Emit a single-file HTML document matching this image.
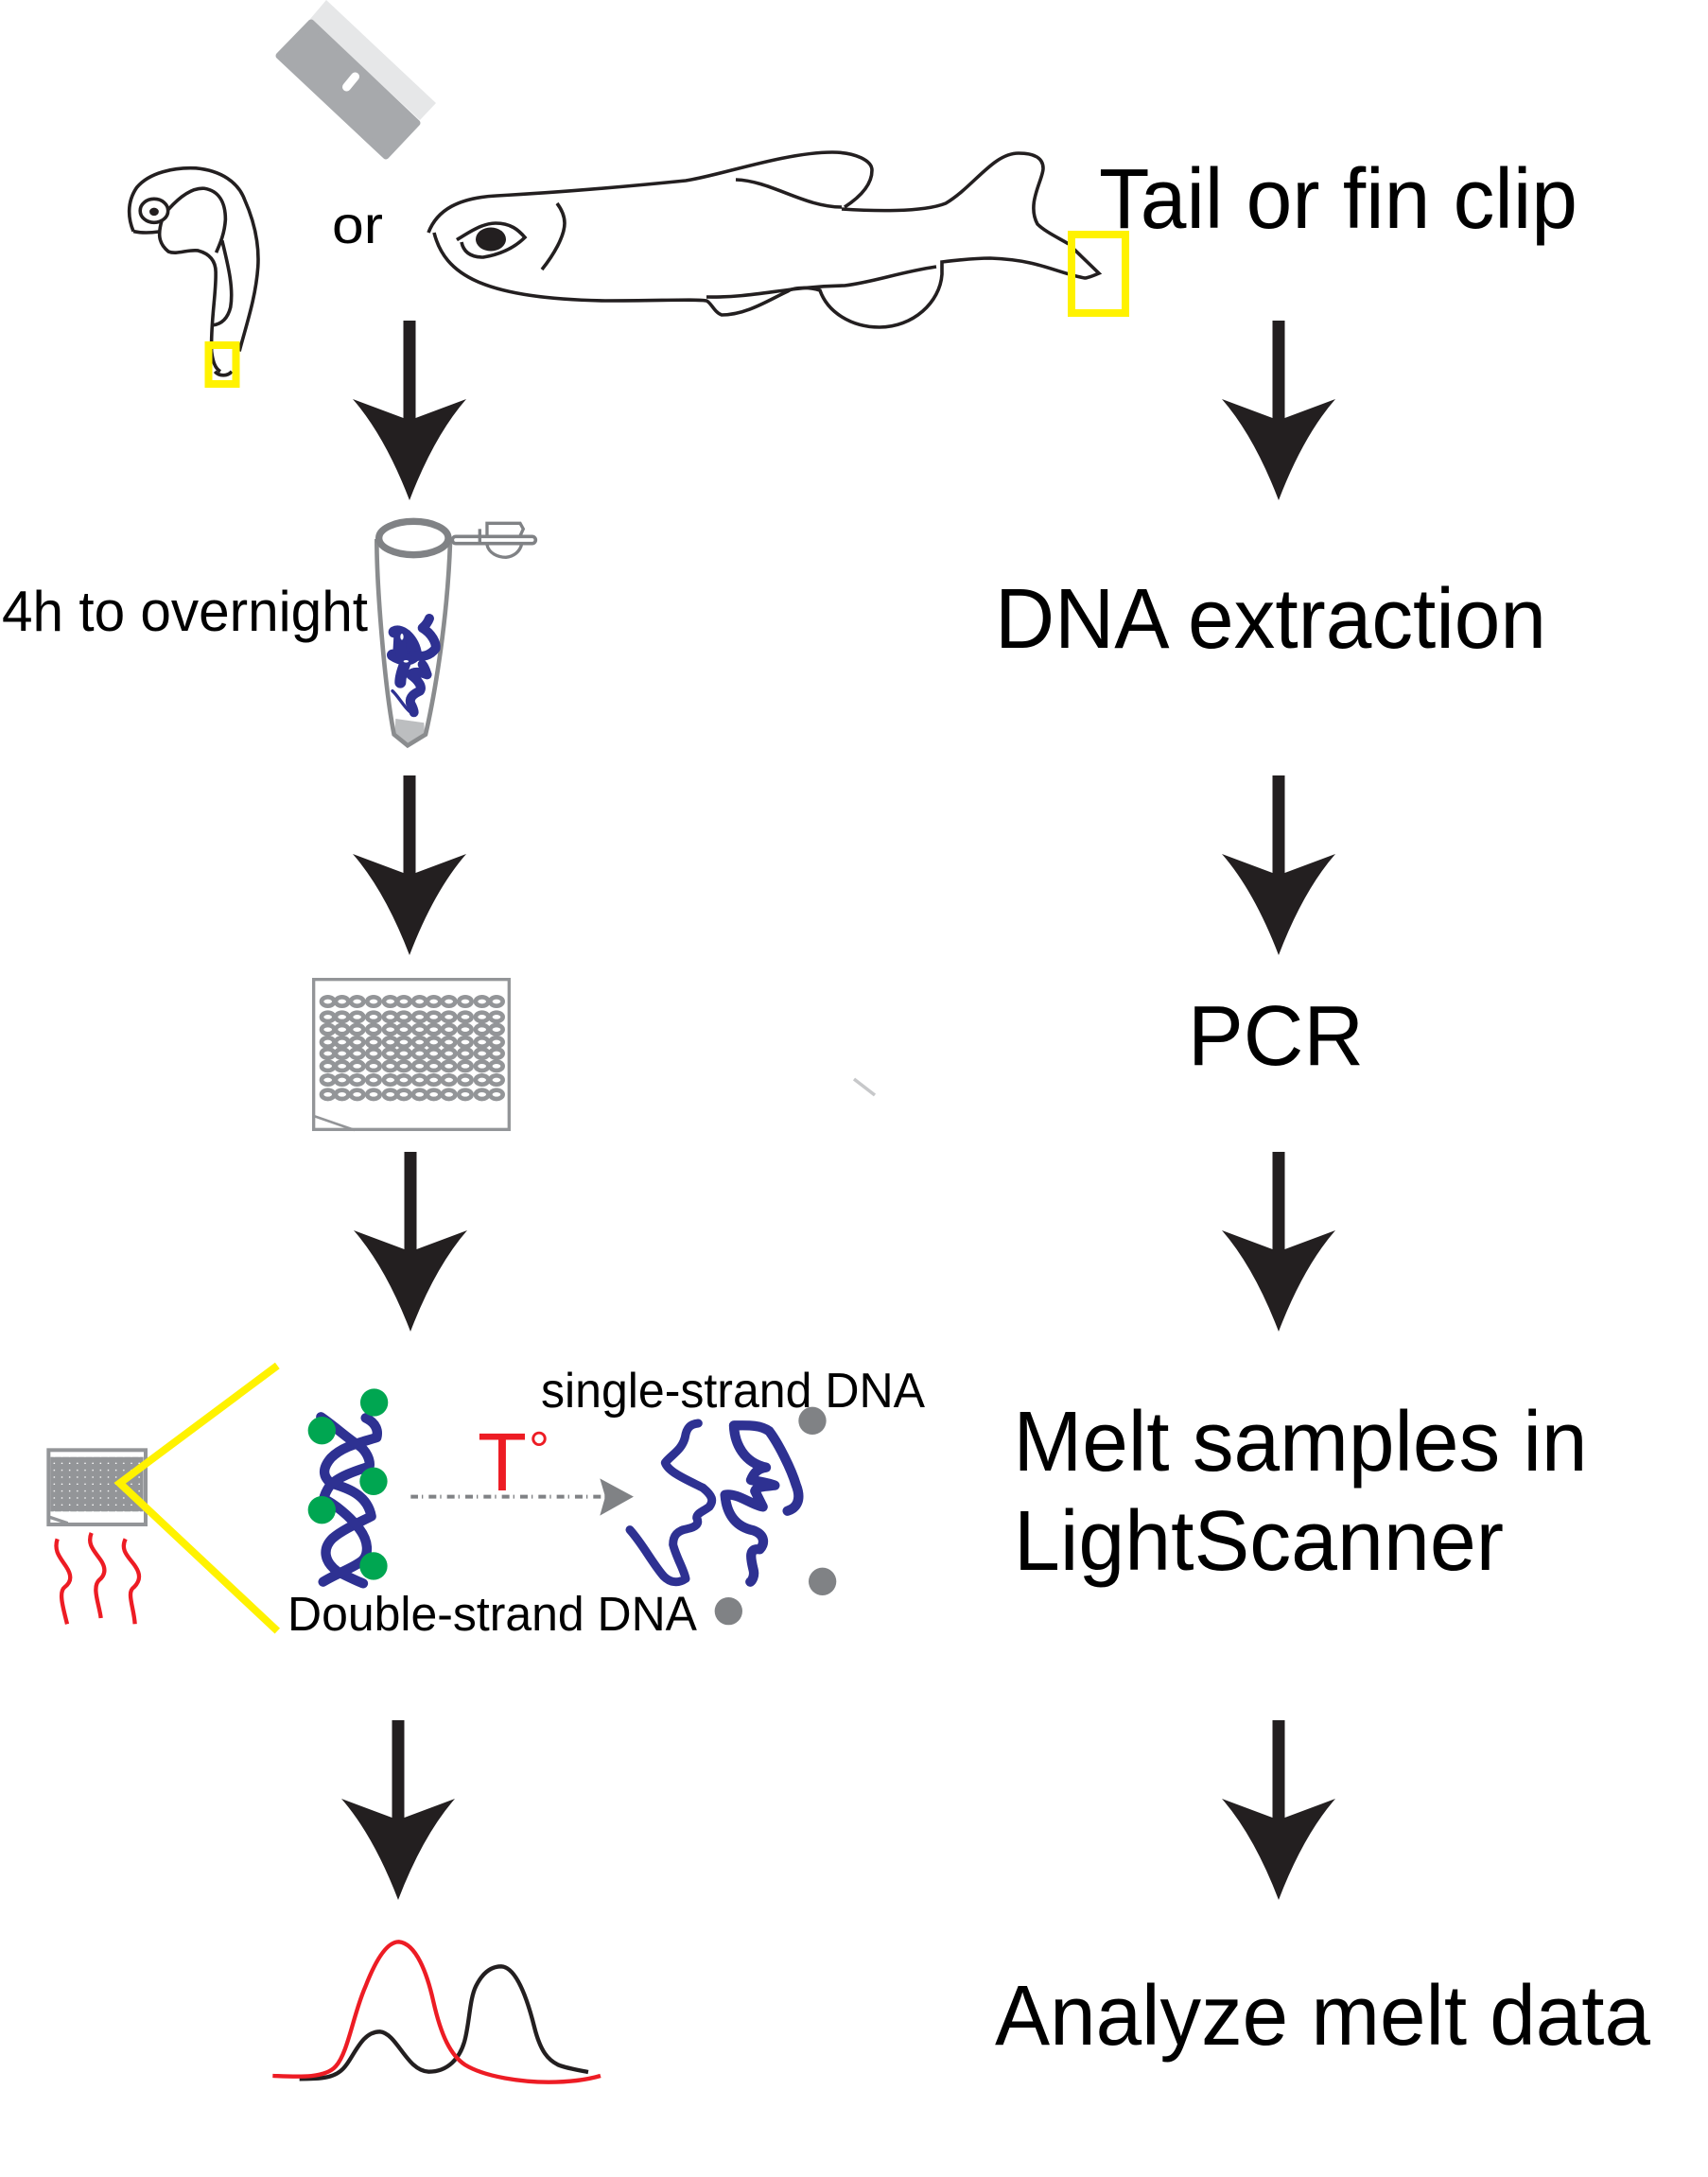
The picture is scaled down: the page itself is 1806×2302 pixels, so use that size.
<!DOCTYPE html>
<html>
<head>
<meta charset="utf-8">
<style>
html,body{margin:0;padding:0;background:#fff;}
svg{display:block;}
text{font-family:"Liberation Sans",Arial,sans-serif;fill:#000;}
</style>
</head>
<body>
<svg xmlns="http://www.w3.org/2000/svg" width="1806" height="2302" viewBox="0 0 1806 2302">
<defs>
  <path id="arr" fill="#231f20" d="M-60,83 L-6.5,103 V0 H6.5 V103 L60,83 Q26,122 0,190 Q-26,122 -60,83 Z"/>
  <g id="wr" fill="none" stroke="#939598" stroke-width="14">
    <ellipse cx="140" cy="0" rx="20" ry="14"/><ellipse cx="185" cy="0" rx="20" ry="14"/><ellipse cx="233" cy="0" rx="20" ry="14"/><ellipse cx="285" cy="0" rx="20" ry="14"/><ellipse cx="338" cy="0" rx="20" ry="14"/><ellipse cx="381" cy="0" rx="20" ry="14"/><ellipse cx="431" cy="0" rx="20" ry="14"/><ellipse cx="476" cy="0" rx="20" ry="14"/><ellipse cx="524" cy="0" rx="20" ry="14"/><ellipse cx="576" cy="0" rx="20" ry="14"/><ellipse cx="629" cy="0" rx="20" ry="14"/><ellipse cx="675" cy="0" rx="20" ry="14"/>
  </g>
  <pattern id="dots" width="24.5" height="22" patternUnits="userSpaceOnUse" x="70" y="332">
    <rect width="24.5" height="22" fill="#939598"/>
    <circle cx="12" cy="20" r="2.4" fill="#fff"/>
  </pattern>
</defs>

<!-- blade -->
<polygon points="345,0 461,109 444,127 328,20" fill="#e6e7e8"/>
<polygon points="329,24 295,59 408,165 441,130" fill="#a7a9ac" stroke="#a7a9ac" stroke-width="7" stroke-linejoin="round"/>
<line x1="366.5" y1="92" x2="375.5" y2="81" stroke="#fff" stroke-width="9" stroke-linecap="round"/>

<!-- embryo -->
<g transform="translate(100,0) scale(0.4464,0.3571)" fill="none" stroke="#231f20">
  <path vector-effect="non-scaling-stroke" stroke-width="3.6" d="M92,685 C80,650 75,600 100,555 C130,510 190,495 240,498 C300,505 340,540 355,590 C380,660 390,730 387,790 C382,880 360,960 343,1040"/>
  <path vector-effect="non-scaling-stroke" stroke-width="3.6" d="M92,685 C110,690 130,690 152,686"/>
  <ellipse vector-effect="non-scaling-stroke" stroke-width="3.6" cx="141" cy="624" rx="33" ry="35"/>
  <ellipse cx="141" cy="627" rx="11" ry="12" fill="#231f20" stroke="none"/>
  <path vector-effect="non-scaling-stroke" stroke-width="3.6" d="M175,620 C200,585 230,555 260,558 C295,565 310,600 310,650 C308,690 298,720 288,748"/>
  <path vector-effect="non-scaling-stroke" stroke-width="3.6" d="M160,650 C150,690 150,720 175,745 C195,755 220,738 245,742 C275,752 288,775 287,810 C288,870 275,950 277,1040 C280,1070 285,1090 298,1100"/>
  <path vector-effect="non-scaling-stroke" stroke-width="3.6" d="M302,712 C315,780 330,850 322,910 C315,945 300,960 280,963"/>
  <path vector-effect="non-scaling-stroke" stroke-width="3.6" d="M285,1100 C295,1115 315,1115 325,1100"/>
</g>
<rect x="220.5" y="365" width="29" height="41" fill="none" stroke="#fff200" stroke-width="8"/>

<text x="351" y="257" font-size="56" textLength="54" lengthAdjust="spacingAndGlyphs">or</text>

<!-- fish -->
<g fill="none" stroke="#231f20" stroke-width="3.6">
  <path d="M453,246 C462,222 485,209 525,207 C600,203 665,197 725,191 C760,186 830,161 880,161 C905,161 922,170 922,180 C922,195 910,208 893,219"/>
  <path d="M778,190 C815,191 850,219 890,219"/>
  <path d="M890,221 C920,223 975,225 1000,215 C1030,197 1050,162 1077,162 C1095,162 1103,168 1103,178 C1103,190 1085,215 1097,237 C1105,245 1120,252 1130,258 L1162,289 C1155,292 1150,294 1147,294 C1115,288 1100,275 1047,273 C1030,273 1012,275 996,277 L996,290 C994,320 965,346 930,346 C900,346 875,330 867,307 C855,303 838,304 833,308 C815,316 790,333 763,333 C755,330 752,320 747,318 C735,316 700,318 640,318 C510,316 470,290 459,246"/>
  <path d="M747,314 C800,315 830,303 893,302 C925,298 950,288 990,282"/>
  <path d="M483,253.6 C495,246 510,236 524,236 C540,236 548,243 555,251 C548,258 535,268 511,272 C497,272 490,266 488,256"/>
  <ellipse cx="519" cy="253" rx="16" ry="12.5" fill="#231f20" stroke="none"/>
  <path d="M589,215 C595,223 597,230 597,236 C597,250 585,270 573,285"/>
</g>
<rect x="1133" y="248" width="57" height="83" fill="none" stroke="#fff200" stroke-width="8"/>

<text x="1162" y="241" font-size="90" textLength="506" lengthAdjust="spacingAndGlyphs">Tail or fin clip</text>

<!-- arrows -->
<use href="#arr" x="433" y="339"/>
<use href="#arr" x="1352" y="339"/>
<use href="#arr" x="433" y="820"/>
<use href="#arr" x="1352" y="820"/>
<use href="#arr" x="434" y="1218"/>
<use href="#arr" x="1352" y="1218"/>
<use href="#arr" x="421" y="1819"/>
<use href="#arr" x="1352" y="1819"/>

<!-- tube -->
<text x="2" y="667" font-size="60" textLength="387" lengthAdjust="spacingAndGlyphs">4h to overnight</text>
<g transform="translate(300,520) scale(0.3333)">
  <polygon points="355,720 445,733 447,767 393,797 352,767" fill="#bcbec0"/>
  <path d="M295,150 C295,300 320,620 350,770 L393,805 L450,770 C480,640 520,400 528,160" fill="none" stroke="#8a8c8e" stroke-width="14"/>
  <ellipse cx="412" cy="147" rx="110" ry="53" fill="#fff" stroke="#808285" stroke-width="22"/>
  <rect x="535" y="142" width="264" height="22" rx="11" fill="none" stroke="#808285" stroke-width="11"/>
  <path d="M645,140 V100 H750 L760,118 L750,140" fill="none" stroke="#808285" stroke-width="10"/>
  <path d="M645,168 C650,195 680,208 705,208 C730,205 750,190 755,165" fill="none" stroke="#808285" stroke-width="10"/>
  <line x1="622" y1="118" x2="622" y2="165" stroke="#808285" stroke-width="10"/>
  <polygon points="350,440 400,440 430,500 400,545 345,530" fill="#2e3192"/>
  <g fill="none" stroke="#2e3192" stroke-linecap="round" stroke-linejoin="round">
    <path stroke-width="36" d="M350,445 C375,432 415,470 420,515 C405,540 370,535 345,518"/>
    <path stroke-width="36" d="M370,470 C370,500 375,530 385,545 C375,570 370,590 370,605"/>
    <path stroke-width="30" d="M462,402 C455,420 445,428 440,432 C470,450 485,480 482,497 C465,520 440,525 420,520"/>
    <path stroke-width="30" d="M440,548 C450,560 452,575 455,580 C430,570 410,570 402,580 C430,600 440,620 432,632 C415,640 398,650 402,670 C410,685 413,695 413,700"/>
    <path stroke-width="10" d="M345,632 C365,650 385,690 410,705"/>
  </g>
  <ellipse cx="375" cy="460" rx="5" ry="10" fill="#fff"/>
  <ellipse cx="388" cy="538" rx="8" ry="4" fill="#fff"/>
</g>

<text x="1052" y="685" font-size="90" textLength="583" lengthAdjust="spacingAndGlyphs">DNA extraction</text>

<!-- plate -->
<g transform="translate(300,1020) scale(0.3333)">
  <rect x="95" y="47" width="620" height="476" fill="#fff" stroke="#939598" stroke-width="10"/>
  <use href="#wr" y="117"/><use href="#wr" y="166"/><use href="#wr" y="206"/><use href="#wr" y="246"/><use href="#wr" y="282"/><use href="#wr" y="322"/><use href="#wr" y="366"/><use href="#wr" y="412"/>
  <line x1="95" y1="480" x2="225" y2="525" stroke="#939598" stroke-width="8"/>
</g>
<line x1="903" y1="1141" x2="925" y2="1158" stroke="#c7c8ca" stroke-width="3.5"/>

<text x="1256" y="1126" font-size="90" textLength="186" lengthAdjust="spacingAndGlyphs">PCR</text>

<!-- melt -->
<g transform="translate(30,1430) scale(0.3333)">
  <rect x="64" y="310" width="308" height="236" fill="#fff" stroke="#939598" stroke-width="12"/>
  <rect x="70" y="332" width="295" height="173" fill="url(#dots)"/>
  <line x1="65" y1="522" x2="125" y2="542" stroke="#939598" stroke-width="10"/>
  <polyline points="790,42 290,415 790,884" fill="none" stroke="#fff200" stroke-width="24"/>
  <g fill="none" stroke="#ed1c24" stroke-width="13">
    <path d="M92,592 C80,630 100,650 120,680 C140,710 135,730 115,745 C95,760 110,810 123,862"/>
    <path d="M200,573 C185,610 210,630 230,660 C250,690 240,710 225,722 C200,745 225,800 230,843"/>
    <path d="M308,592 C290,630 320,650 340,680 C360,710 350,730 335,745 C310,760 335,810 338,862"/>
  </g>
  <g fill="none" stroke="#2e3192" stroke-width="31" stroke-linecap="round" stroke-linejoin="round">
    <path d="M1070,208 C1105,225 1110,250 1105,270 C1060,285 1000,295 960,335 C930,370 935,395 960,415 C1010,430 1075,450 1088,520 C1060,535 1000,560 965,590 C930,625 940,665 980,695 C1010,710 1040,725 1062,733"/>
    <path d="M928,205 C965,230 1010,270 1040,290 C1075,310 1085,345 1082,362 C1040,375 980,395 955,425 C945,440 940,450 937,465 C970,480 1020,520 1050,560 C1080,600 1080,640 1060,660 C1030,685 980,700 935,728"/>
  </g>
  <g fill="#00a651">
    <circle cx="931" cy="248" r="44"/><circle cx="1097" cy="159" r="44"/><circle cx="1095" cy="409" r="44"/><circle cx="931" cy="500" r="44"/><circle cx="1095" cy="678" r="44"/>
  </g>
</g>

<text x="505" y="1576" font-size="87" textLength="52" lengthAdjust="spacingAndGlyphs" style="fill:#ed1c24">T</text>
<text x="559" y="1552" font-size="55" style="fill:#ed1c24">°</text>

<g transform="translate(300,1430) scale(0.3333)">
  <line x1="403" y1="458" x2="1020" y2="458" stroke="#808285" stroke-width="12" stroke-dasharray="4 18 24 12" stroke-dashoffset="23"/>
  <polygon points="1003,400 1110,458 1003,518 1020,458" fill="#808285"/>
</g>

<g transform="translate(640,1430) scale(0.3333)">
  <g fill="none" stroke="#2e3192" stroke-width="31" stroke-linecap="round" stroke-linejoin="round">
    <path stroke-width="27" d="M295,225 C270,228 258,238 253,270 C243,310 210,325 190,350 C200,380 260,405 310,430 C340,455 345,470 330,490 C310,505 290,510 290,525 C300,545 285,555 260,560 C230,565 215,580 215,610 C225,650 250,690 255,718 C230,735 205,730 185,710 C150,670 120,610 78,563"/>
    <path d="M578,503 C605,495 625,470 605,420 C590,370 550,290 520,250 C490,228 445,232 408,232 C410,290 440,350 510,365 C480,370 470,385 462,405 C490,410 520,415 538,422 C510,425 480,425 475,440 C485,460 495,480 500,490 C465,485 420,445 380,452 C385,520 420,555 470,565 C510,580 505,610 490,625 C455,620 460,650 470,690 C475,710 465,725 460,728"/>
  </g>
  <g fill="#808285">
    <circle cx="657" cy="217" r="44"/><circle cx="689" cy="727" r="44"/><circle cx="391" cy="821" r="44"/>
  </g>
</g>

<text x="572" y="1488" font-size="52" textLength="406" lengthAdjust="spacingAndGlyphs">single-strand DNA</text>
<text x="304" y="1724" font-size="51" textLength="433" lengthAdjust="spacingAndGlyphs">Double-strand DNA</text>

<text x="1071.5" y="1555" font-size="90" textLength="607" lengthAdjust="spacingAndGlyphs">Melt samples in</text>
<text x="1072" y="1660" font-size="90" textLength="518" lengthAdjust="spacingAndGlyphs">LightScanner</text>

<!-- curves -->
<g transform="translate(270,2030) scale(0.3333)" fill="none" stroke-width="13">
  <path stroke="#231f20" d="M140,505 C190,505 240,505 270,480 C310,450 330,355 395,355 C450,360 480,480 550,482 C610,482 650,440 665,380 C680,320 680,250 700,210 C725,160 755,148 780,148 C830,150 865,260 885,340 C905,420 930,445 960,460 C990,472 1030,478 1056,483"/>
  <path stroke="#ed1c24" d="M55,495 C130,498 220,505 255,465 C295,420 310,300 350,210 C385,120 420,70 455,70 C510,75 545,170 565,260 C590,370 620,430 665,460 C730,500 850,515 930,515 C990,515 1050,508 1095,495"/>
</g>

<text x="1052" y="2162" font-size="90" textLength="693" lengthAdjust="spacingAndGlyphs">Analyze melt data</text>
</svg>
</body>
</html>
